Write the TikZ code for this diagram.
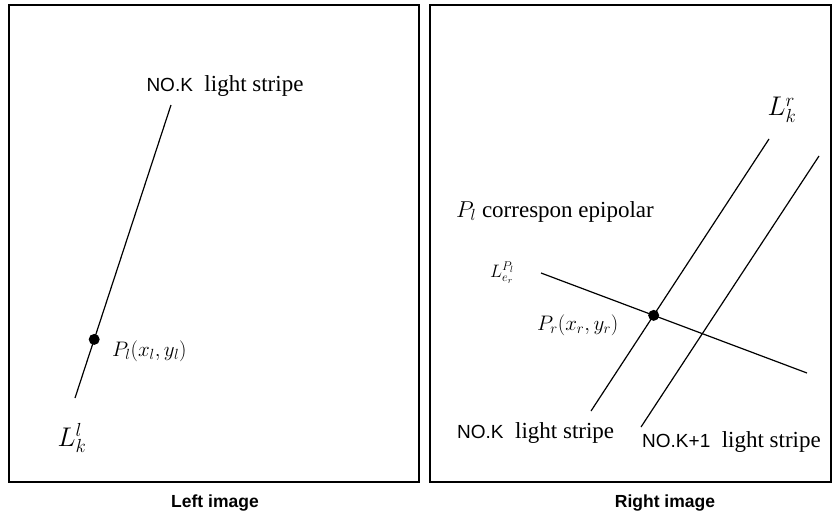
\documentclass[tikz,border=0pt]{standalone}
\usepackage{fix-cm}
\usepackage{fontspec}
\setmainfont{Liberation Serif}
\newfontfamily\arialfont{Liberation Sans}
\usetikzlibrary{positioning,calc}

\begin{document}
\begin{tikzpicture}[x=1pt,y=-1pt]
\tikzset{
  frame/.style={draw,line width=1.3pt},
  stripe/.style={line width=1.2pt},
  spot/.style={circle,fill,inner sep=0pt,minimum size=11pt},
  lbl/.style={font=\fontsize{23}{26}\selectfont,inner sep=1pt},
  mathlbl/.style={font=\fontsize{21}{24}\selectfont,inner sep=1pt},
  biglbl/.style={font=\fontsize{27}{30}\selectfont,inner sep=1pt},
  imgcap/.style={font=\arialfont\bfseries\fontsize{17.5}{20}\selectfont},
}
\newcommand{\nok}[1]{{\arialfont\fontsize{19}{22}\selectfont #1}}
\useasboundingbox (0,0) rectangle (832,517);
\draw[frame] (9,5) rectangle (419,482);
\draw[frame] (430,5) rectangle (831,482);

% left image
\coordinate (lt) at (171,105);
\coordinate (lb) at (75,398);
\draw[stripe] (lt)--(lb);
\node[spot] (pl) at ($(lt)!0.8!(lb)$) {};
\node[lbl] (ltop) at (225,86) {\nok{NO.K}\ \ light stripe};
\node[mathlbl,anchor=west] (pllab) at (111,351) {$P_l(x_l,y_l)$};
\node[biglbl] (lkl) at (72,438) {$L_k^l$};
\node[imgcap] (lcap) at (215,503) {Left image};

% right image
\coordinate (ka) at (769,139);
\coordinate (kb) at (591,411);
\coordinate (ja) at (819,156);
\coordinate (jb) at (641,427);
\coordinate (ea) at (541,273);
\coordinate (eb) at (807,373);
\draw[stripe] (ka)--(kb);
\draw[stripe] (ja)--(jb);
\draw[stripe] (ea)--(eb);
\node[spot] (pr) at (intersection of ka--kb and ea--eb) {};
\node[biglbl] (lkr) at (782,110) {$L_k^r$};
\node[lbl,anchor=west] (epi) at (455,212) {$P_l$ correspon epipolar};
\node[font=\fontsize{18}{20}\selectfont] (lep) at (502,273) {$L^{P_l}_{e_r}$};
\node[mathlbl,anchor=west] (prlab) at (536,325) {$P_r(x_r,y_r)$};
\node[lbl,anchor=west] (rk) at (456,433) {\nok{NO.K}\ \ light stripe};
\node[lbl,anchor=west] (rk1) at (641,442) {\nok{NO.K+1}\ \ light stripe};
\node[imgcap] (rcap) at (665,503) {Right image};
\end{tikzpicture}
\end{document}
